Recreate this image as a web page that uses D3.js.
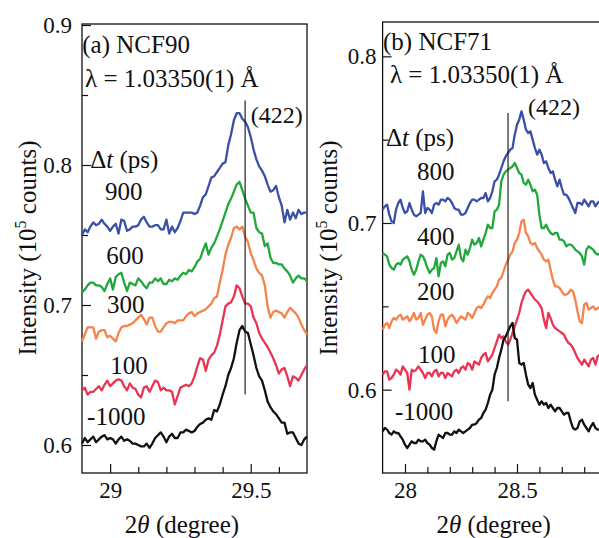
<!DOCTYPE html>
<html>
<head>
<meta charset="utf-8">
<script src="https://cdn.jsdelivr.net/npm/d3@7"></script>
<style>
  body { margin: 0; background: #fff; }
  svg { display: block; }
  .tick text { font-size: 23px; fill: #111; }
  .tick line { stroke: #111; stroke-width: 1.2; }
  .note { font-size: 25px; fill: #111; }
</style>
</head>
<body>
<svg width="599" height="538" font-family="Liberation Serif"></svg>
<script>
// 2theta step scan, 0.01 deg
let thetaA = d3.range(81).map(i => +(28.90 + i * 0.01).toFixed(2));
let thetaB = d3.range(98).map(i => +(27.90 + i * 0.01).toFixed(2));

// (a) NCF90, intensity (10^5 counts)
let a900 = [0.750,0.754,0.752,0.756,0.759,0.757,0.758,0.761,0.758,0.756,
  0.753,0.756,0.758,0.751,0.761,0.760,0.753,0.754,0.756,0.756,
  0.757,0.761,0.763,0.759,0.756,0.756,0.757,0.757,0.754,0.754,
  0.761,0.751,0.756,0.752,0.755,0.760,0.766,0.766,0.766,0.766,
  0.765,0.766,0.771,0.777,0.779,0.785,0.791,0.792,0.795,0.798,
  0.801,0.802,0.814,0.822,0.832,0.837,0.837,0.833,0.831,0.827,
  0.820,0.811,0.804,0.799,0.796,0.792,0.786,0.781,0.782,0.785,
  0.777,0.771,0.759,0.768,0.761,0.766,0.762,0.768,0.765,0.766,
  0.766];
let a600 = [0.709,0.711,0.714,0.716,0.716,0.714,0.714,0.713,0.710,0.715,
  0.719,0.711,0.720,0.722,0.723,0.716,0.710,0.716,0.715,0.714,
  0.719,0.717,0.714,0.712,0.716,0.716,0.719,0.717,0.719,0.715,
  0.715,0.718,0.717,0.719,0.718,0.721,0.723,0.722,0.725,0.724,
  0.727,0.731,0.733,0.739,0.744,0.736,0.741,0.744,0.749,0.754,
  0.760,0.766,0.772,0.776,0.781,0.786,0.788,0.782,0.776,0.771,
  0.766,0.766,0.755,0.752,0.751,0.742,0.744,0.734,0.730,0.730,
  0.729,0.729,0.726,0.724,0.721,0.716,0.719,0.721,0.719,0.719,
  0.717];
let a300 = [0.674,0.679,0.684,0.684,0.684,0.676,0.681,0.682,0.682,0.677,
  0.678,0.676,0.674,0.680,0.684,0.685,0.685,0.686,0.687,0.689,
  0.691,0.693,0.690,0.686,0.691,0.691,0.685,0.681,0.681,0.684,
  0.687,0.688,0.688,0.687,0.689,0.689,0.689,0.692,0.694,0.695,
  0.692,0.694,0.695,0.696,0.697,0.699,0.701,0.705,0.706,0.716,
  0.725,0.736,0.743,0.748,0.755,0.756,0.754,0.756,0.749,0.745,
  0.737,0.732,0.726,0.723,0.721,0.714,0.699,0.691,0.695,0.696,
  0.695,0.694,0.691,0.695,0.698,0.696,0.694,0.691,0.686,0.682,
  0.679];
let a100 = [0.639,0.641,0.636,0.638,0.638,0.640,0.642,0.639,0.643,0.646,
  0.642,0.644,0.646,0.647,0.646,0.642,0.639,0.644,0.641,0.640,
  0.636,0.634,0.641,0.642,0.638,0.642,0.646,0.645,0.639,0.641,
  0.639,0.639,0.638,0.629,0.635,0.641,0.642,0.643,0.642,0.644,
  0.649,0.656,0.662,0.661,0.653,0.661,0.664,0.666,0.671,0.679,
  0.689,0.699,0.701,0.702,0.706,0.714,0.712,0.706,0.701,0.701,
  0.699,0.691,0.687,0.680,0.676,0.673,0.670,0.666,0.662,0.657,
  0.651,0.654,0.655,0.649,0.642,0.649,0.648,0.646,0.650,0.654,
  0.657];
let aM1000 = [0.601,0.605,0.602,0.604,0.606,0.602,0.604,0.606,0.607,0.604,
  0.605,0.604,0.601,0.604,0.606,0.603,0.604,0.603,0.601,0.601,
  0.600,0.599,0.599,0.601,0.598,0.601,0.605,0.607,0.609,0.606,
  0.602,0.606,0.608,0.605,0.605,0.609,0.609,0.611,0.610,0.609,
  0.610,0.613,0.615,0.616,0.618,0.619,0.618,0.625,0.624,0.629,
  0.636,0.642,0.650,0.655,0.662,0.673,0.682,0.685,0.681,0.680,
  0.672,0.664,0.655,0.649,0.646,0.639,0.631,0.627,0.624,0.622,
  0.619,0.616,0.616,0.608,0.609,0.609,0.605,0.601,0.600,0.604,
  0.606];

// (b) NCF71
let b800 = [0.708,0.710,0.711,0.705,0.701,0.700,0.708,0.712,0.714,0.709,
  0.706,0.707,0.712,0.708,0.705,0.704,0.705,0.706,0.719,0.706,
  0.709,0.708,0.706,0.711,0.712,0.711,0.714,0.714,0.713,0.715,
  0.714,0.712,0.709,0.708,0.708,0.705,0.705,0.706,0.709,0.712,
  0.714,0.714,0.713,0.714,0.715,0.715,0.718,0.713,0.715,0.719,
  0.725,0.726,0.729,0.733,0.737,0.740,0.742,0.744,0.745,0.753,
  0.759,0.762,0.767,0.762,0.756,0.754,0.755,0.750,0.745,0.741,
  0.744,0.741,0.736,0.737,0.733,0.730,0.731,0.726,0.722,0.726,
  0.721,0.717,0.717,0.715,0.712,0.709,0.706,0.712,0.712,0.711,
  0.714,0.712,0.710,0.713,0.713,0.710,0.712,0.713];
let b400 = [0.682,0.681,0.680,0.675,0.673,0.672,0.675,0.676,0.675,0.678,
  0.679,0.680,0.677,0.672,0.669,0.672,0.677,0.681,0.680,0.677,
  0.673,0.670,0.672,0.673,0.679,0.668,0.676,0.677,0.674,0.681,
  0.682,0.678,0.679,0.683,0.687,0.679,0.677,0.684,0.681,0.685,
  0.690,0.687,0.688,0.691,0.686,0.690,0.694,0.699,0.697,0.697,
  0.707,0.708,0.711,0.725,0.729,0.731,0.732,0.733,0.734,0.736,
  0.733,0.730,0.729,0.724,0.723,0.726,0.723,0.719,0.720,0.717,
  0.705,0.697,0.697,0.699,0.696,0.694,0.693,0.694,0.694,0.690,
  0.690,0.689,0.686,0.687,0.687,0.686,0.684,0.683,0.682,0.680,
  0.675,0.684,0.686,0.685,0.684,0.682,0.681,0.682];
let b200 = [0.636,0.639,0.640,0.637,0.641,0.643,0.642,0.644,0.645,0.642,
  0.643,0.644,0.641,0.643,0.646,0.642,0.643,0.646,0.639,0.642,
  0.645,0.646,0.644,0.636,0.634,0.641,0.645,0.645,0.638,0.642,
  0.644,0.645,0.643,0.640,0.642,0.644,0.643,0.642,0.646,0.645,
  0.643,0.646,0.649,0.650,0.649,0.651,0.654,0.656,0.655,0.658,
  0.660,0.662,0.666,0.667,0.671,0.675,0.678,0.681,0.683,0.688,
  0.690,0.694,0.701,0.702,0.694,0.692,0.688,0.687,0.688,0.685,
  0.683,0.681,0.678,0.677,0.678,0.672,0.666,0.662,0.662,0.661,
  0.659,0.657,0.657,0.658,0.660,0.659,0.654,0.647,0.641,0.640,
  0.651,0.652,0.648,0.649,0.650,0.648,0.649,0.649];
let b100 = [0.609,0.611,0.611,0.606,0.607,0.609,0.612,0.611,0.609,0.614,
  0.612,0.610,0.600,0.612,0.611,0.612,0.614,0.612,0.610,0.607,
  0.610,0.610,0.608,0.611,0.612,0.608,0.610,0.610,0.607,0.610,
  0.609,0.608,0.611,0.612,0.610,0.613,0.614,0.612,0.616,0.615,
  0.612,0.617,0.616,0.615,0.619,0.621,0.622,0.617,0.619,0.621,
  0.625,0.629,0.633,0.631,0.632,0.629,0.627,0.630,0.634,0.638,
  0.642,0.646,0.652,0.656,0.659,0.660,0.658,0.656,0.654,0.653,
  0.651,0.649,0.642,0.637,0.646,0.643,0.639,0.637,0.636,0.635,
  0.634,0.633,0.630,0.628,0.627,0.625,0.622,0.619,0.617,0.615,
  0.618,0.616,0.614,0.618,0.619,0.615,0.620,0.621];
let bM1000 = [0.575,0.577,0.576,0.574,0.573,0.575,0.574,0.574,0.572,0.570,
  0.567,0.565,0.567,0.569,0.568,0.568,0.570,0.569,0.569,0.570,
  0.568,0.567,0.565,0.564,0.569,0.573,0.572,0.571,0.574,0.574,
  0.573,0.573,0.575,0.574,0.576,0.575,0.574,0.575,0.576,0.577,
  0.579,0.579,0.580,0.582,0.583,0.586,0.588,0.592,0.597,0.600,
  0.609,0.613,0.619,0.624,0.630,0.632,0.635,0.638,0.640,0.631,
  0.630,0.616,0.615,0.616,0.609,0.603,0.601,0.604,0.597,0.594,
  0.591,0.593,0.591,0.592,0.589,0.591,0.589,0.587,0.589,0.589,
  0.587,0.585,0.586,0.586,0.581,0.577,0.576,0.577,0.581,0.582,
  0.579,0.577,0.575,0.578,0.580,0.577,0.576,0.576];

let delaysA = ["900", "600", "300", "100", "-1000"];
let delaysB = ["800", "400", "200", "100", "-1000"];
let peakA = 29.48;   // (422) marker
let peakB = 28.46;

let colors = ["#3a4fa6", "#20a83c", "#f6834b", "#ea3452", "#111111"];
let serif = "Liberation Serif";

let svg = d3.select("svg");

function drawPanel(p) {
  let x = d3.scaleLinear().domain(p.xDomain).range([p.left, p.right]);
  let y = d3.scaleLinear().domain(p.yDomain).range([p.bottom, p.top]);
  let g = svg.append("g");

  // y ticks, inside
  g.append("g")
      .attr("transform", "translate(" + p.left + ",0)")
      .call(d3.axisLeft(y).tickValues(p.yMinor).tickSize(-6).tickFormat(""))
      .call(s => s.select(".domain").remove());
  g.append("g")
      .attr("transform", "translate(" + p.left + ",0)")
      .call(d3.axisLeft(y).tickValues(p.yMajor).tickSize(-9).tickPadding(p.yPad).tickFormat(d3.format(".1f")))
      .call(s => s.select(".domain").remove());

  // x ticks, inside
  g.append("g")
      .attr("transform", "translate(0," + p.bottom + ")")
      .call(d3.axisBottom(x).tickValues(p.xMinor).tickSize(-6).tickFormat(""))
      .call(s => s.select(".domain").remove());
  g.append("g")
      .attr("transform", "translate(0," + p.bottom + ")")
      .call(d3.axisBottom(x).tickValues(p.xMajor).tickSize(-9).tickPadding(9).tickFormat(d => String(d)))
      .call(s => s.select(".domain").remove());

  g.selectAll("g").attr("font-family", serif);
  g.selectAll(".tick text").attr("font-family", serif);

  g.append("rect")
      .attr("x", p.left)
      .attr("y", p.top - 1)
      .attr("width", p.right - p.left)
      .attr("height", p.bottom - p.top + 1)
      .attr("fill", "none")
      .attr("stroke", "#111")
      .attr("stroke-width", 1.3);

  let line = d3.line()
      .x((d, i) => x(p.theta[i]))
      .y(d => y(d));

  g.selectAll(".curve").data(p.series)
    .enter().append("path")
      .attr("class", "curve")
      .attr("d", line)
      .attr("fill", "none")
      .attr("stroke", (d, i) => colors[i])
      .attr("stroke-width", 2.3)
      .attr("stroke-linejoin", "round");

  g.append("line")
      .attr("x1", x(p.peak)).attr("x2", x(p.peak))
      .attr("y1", y(p.peakSpan[0])).attr("y2", y(p.peakSpan[1]))
      .attr("stroke", "#222")
      .attr("stroke-width", 1.2);

  // annotations
  g.append("text").attr("class", "note")
      .attr("x", x(p.title[0])).attr("y", y(p.title[1]))
      .text(p.name);
  g.append("text").attr("class", "note")
      .attr("x", x(p.lambda[0])).attr("y", y(p.lambda[1]))
      .text("\u03bb = 1.03350(1) \u00c5");
  g.append("text").attr("class", "note")
      .style("font-size", "24px")
      .attr("x", x(p.hkl[0])).attr("y", y(p.hkl[1]))
      .text("(422)");
  let dt = g.append("text").attr("class", "note")
      .attr("x", x(p.dt[0])).attr("y", y(p.dt[1]));
  dt.append("tspan").text("\u0394");
  dt.append("tspan").style("font-style", "italic").text("t");
  dt.append("tspan").text(" (ps)");

  g.selectAll(".delay").data(p.delays)
    .enter().append("text")
      .attr("class", "note delay")
      .attr("x", (d, i) => x(p.delayPos[i][0]))
      .attr("y", (d, i) => y(p.delayPos[i][1]))
      .text(d => d);

  // axis titles
  let xt = g.append("text").attr("class", "note")
      .attr("x", (p.left + p.xTitleAt)).attr("y", 533)
      .attr("text-anchor", "middle");
  xt.append("tspan").text("2");
  xt.append("tspan").style("font-style", "italic").text("\u03b8");
  xt.append("tspan").text(" (degree)");

  let yt = g.append("text").attr("class", "note")
      .attr("transform", "translate(" + (p.left - 46) + ",248) rotate(-90)")
      .attr("text-anchor", "middle");
  yt.append("tspan").text("Intensity (10");
  yt.append("tspan").style("font-size", "16px").attr("dy", -10).text("5");
  yt.append("tspan").attr("dy", 10).text(" counts)");

  g.selectAll(".note").attr("font-family", serif);
}

drawPanel({
  name: "(a) NCF90",
  theta: thetaA,
  series: [a900, a600, a300, a100, aM1000],
  delays: delaysA,
  xDomain: [28.9, 29.7], yDomain: [0.58, 0.9],
  left: 82, right: 307, top: 25, bottom: 473,
  xMajor: [29, 29.5], xMinor: [29.1, 29.2, 29.3, 29.4, 29.6],
  yMajor: [0.6, 0.7, 0.8, 0.9], yMinor: [0.65, 0.75, 0.85], yPad: 10,
  peak: peakA, peakSpan: [0.636, 0.846],
  title: [28.901, 0.880], lambda: [28.911, 0.856], hkl: [29.5, 0.830], dt: [28.929, 0.798],
  delayPos: [[28.982, 0.775], [28.986, 0.729], [28.989, 0.694], [29.0, 0.651], [28.918, 0.614]],
  xTitleAt: 100
});

drawPanel({
  name: "(b) NCF71",
  theta: thetaB,
  series: [b800, b400, b200, b100, bM1000],
  delays: delaysB,
  xDomain: [27.9, 29.0], yDomain: [0.55, 0.82],
  left: 382.6, right: 629, top: 23, bottom: 473,
  xMajor: [28, 28.5], xMinor: [28.1, 28.2, 28.3, 28.4, 28.6, 28.7, 28.8, 28.9],
  yMajor: [0.6, 0.7, 0.8], yMinor: [0.65, 0.75], yPad: 6,
  peak: peakB, peakSpan: [0.593, 0.766],
  title: [27.902, 0.804], lambda: [27.933, 0.784], hkl: [28.549, 0.765], dt: [27.915, 0.746],
  delayPos: [[28.054, 0.726], [28.054, 0.687], [28.054, 0.654], [28.058, 0.616], [27.955, 0.582]],
  xTitleAt: 111
});
</script>
</body>
</html>
